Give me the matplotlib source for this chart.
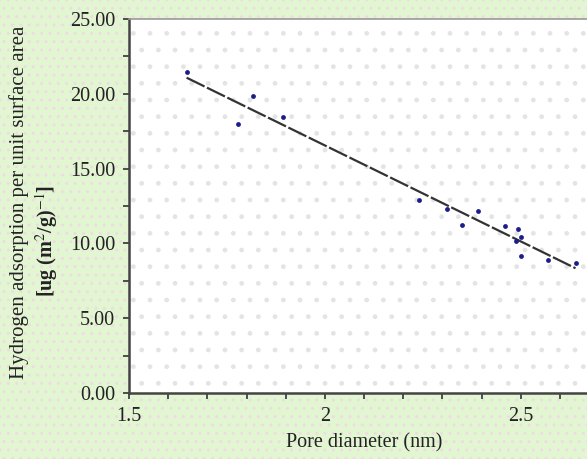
import numpy as np
import matplotlib
matplotlib.use("Agg")
import matplotlib.pyplot as plt
from matplotlib.patches import Rectangle

# data
pore_diameter = [1.647, 1.778, 1.817, 1.894, 2.240, 2.313, 2.350, 2.391,
                 2.461, 2.492, 2.501, 2.489, 2.501, 2.570, 2.640]
h2_per_area = [21.44, 17.96, 19.85, 18.45, 12.90, 12.30, 11.21, 12.17,
               11.18, 10.98, 10.45, 10.18, 9.18, 8.89, 8.71]

x_ticks = [1.5, 2, 2.5]
x_tick_labels = ["1.5", "2", "2.5"]
y_ticks = [0, 5, 10, 15, 20, 25]
y_tick_labels = ["0.00", "5.00", "10.00", "15.00", "20.00", "25.00"]

plt.rcParams["font.family"] = ["Liberation Serif", "DejaVu Serif"]
plt.rcParams["mathtext.fontset"] = "stix"
plt.rcParams["hatch.linewidth"] = 1.0

fig = plt.figure(figsize=(5.87, 4.59), dpi=100)
fig.patch.set_facecolor("#e2f6d2")
# dotted texture of the outer background
fig.patches.append(Rectangle((0, 0), 1, 1, transform=fig.transFigure,
                             facecolor="none", edgecolor="#f0dbe4",
                             hatch="..", linewidth=0, zorder=-5))

ax = fig.add_axes([0.2198, 0.1438, 0.8007, 0.8148])
ax.set_zorder(1)
ax.set_facecolor("white")
ax.add_patch(Rectangle((0, 0), 1, 1, transform=ax.transAxes,
                       facecolor="none", edgecolor="#e4e4e4",
                       hatch=".", linewidth=0, zorder=0))

# least squares line through the points
k, b = np.polyfit(pore_diameter, h2_per_area, 1)
xs = np.array([min(pore_diameter), max(pore_diameter)])
ax.plot(xs, k * xs + b, color="#333333", lw=1.6, dashes=(9, 1.2), zorder=2)

ax.scatter(pore_diameter, h2_per_area, s=12, marker="o", color="#1c1c8a",
           linewidths=0, zorder=3)

ax.set_xlim(1.5, 2.7)
ax.set_ylim(0, 25)
ax.set_xticks(x_ticks)
ax.set_xticklabels(x_tick_labels)
ax.set_xticks(np.arange(1.5, 2.71, 0.1), minor=True)
ax.set_yticks(y_ticks)
ax.set_yticklabels(y_tick_labels)
ax.set_yticks(np.arange(0, 25.1, 2.5), minor=True)

ax.tick_params(axis="both", which="both", direction="out", colors="#333333",
               labelcolor="#222222", labelsize=14.5)
ax.tick_params(axis="x", which="both", length=4, width=1.2, pad=6)
ax.tick_params(axis="y", which="both", length=4, width=1.2, pad=6)

for side in ["left", "bottom"]:
    ax.spines[side].set_color("#444444")
    ax.spines[side].set_linewidth(1.8)
ax.spines["top"].set_color("#999999")
ax.spines["top"].set_linewidth(1.2)
ax.spines["right"].set_visible(False)

ax.set_xlabel("Pore diameter (nm)", fontsize=14.5, color="#222222", labelpad=5)
fig.text(0.032, 0.56, "Hydrogen adsorption per unit surface area",
         rotation=90, ha="center", va="center", fontsize=15, color="#222222")
fig.text(0.08, 0.475, r"[ug (m$^{2}$/g)$^{-1}$]", rotation=90, ha="center",
         va="center", fontsize=14.5, fontweight="bold", color="#222222")

fig.savefig("out.png", dpi=100, facecolor=fig.get_facecolor())
